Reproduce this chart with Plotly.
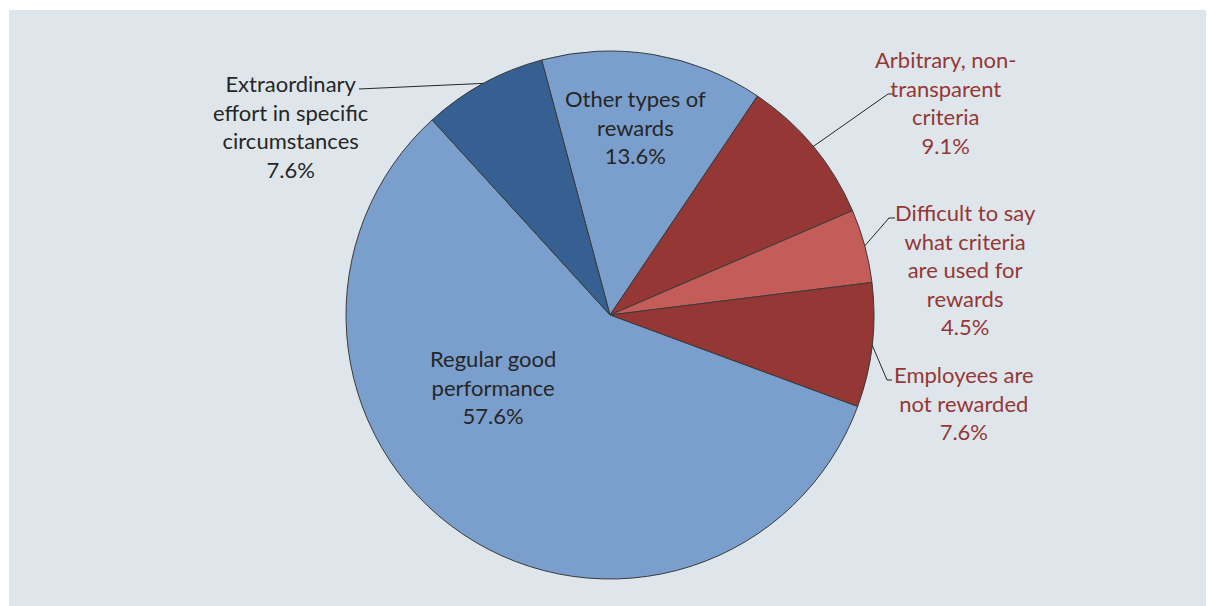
import math
import plotly.graph_objects as go

# ---- data ----
categories = [
    "Other types of rewards",
    "Arbitrary, non-transparent criteria",
    "Difficult to say what criteria are used for rewards",
    "Employees are not rewarded",
    "Regular good performance",
    "Extraordinary effort in specific circumstances",
]
label_lines = [
    "Other types of<br>rewards",
    "Arbitrary, non-<br>transparent<br>criteria",
    "Difficult to say<br>what criteria<br>are used for<br>rewards",
    "Employees are<br>not rewarded",
    "Regular good<br>performance",
    "Extraordinary<br>effort in specific<br>circumstances",
]
values = [13.6, 9.1, 4.5, 7.6, 57.6, 7.6]

# ---- styling / layout ----
slice_colors = ["#7b9fcc", "#953735", "#c45c59", "#953735", "#7b9fcc", "#376092"]
text_colors = ["#262626", "#953735", "#953735", "#953735", "#262626", "#262626"]
BG = "#dee6ec"
OFF = 8                      # page body margin
W, H = 1214 - OFF, 606 - OFF
CX, CY, R = 610 - OFF, 315 - OFF, 264
ROTATION = -15
FONT = "Lato"
FSIZE = 22

# label centers (screen px) and leader line anchor points (screen px)
label_pos = [(635, 127), (945, 102), (965, 270), (964, 403), (493, 387), (290, 127)]
leader_pts = [
    None,
    [(888, 94), (893, 94)],
    [(889, 218), (895, 218)],
    [(887, 380), (892, 380)],
    None,
    [(359, 89)],
]


def px(x, y):
    """screen pixel -> paper coords"""
    return (x - OFF) / W, 1 - (y - OFF) / H


fig = go.Figure(
    go.Pie(
        labels=categories,
        values=values,
        sort=False,
        direction="clockwise",
        rotation=ROTATION,
        marker=dict(colors=slice_colors, line=dict(color="#3a3a3a", width=1)),
        textinfo="none",
        hoverinfo="label+percent",
        showlegend=False,
        domain=dict(x=[(CX - R) / W, (CX + R) / W], y=[1 - (CY + R) / H, 1 - (CY - R) / H]),
    )
)

# white page strips at top and left
fig.add_shape(type="rect", xref="paper", yref="paper", x0=-0.01, x1=1 / W, y0=-0.1, y1=1.1,
              fillcolor="white", line=dict(width=0), layer="below")
fig.add_shape(type="rect", xref="paper", yref="paper", x0=-0.01, x1=1.1, y0=1 - 2 / H, y1=1.1,
              fillcolor="white", line=dict(width=0), layer="below")

total = sum(values)
start = ROTATION
for i, v in enumerate(values):
    ang = v / total * 360
    mid = math.radians(start + ang / 2)
    start += ang
    pct = f"{v / total * 100:.1f}%"
    lx, ly = px(*label_pos[i])
    fig.add_annotation(x=lx, y=ly, xref="paper", yref="paper", showarrow=False,
                       text=f"{label_lines[i]}<br>{pct}", align="center",
                       xanchor="center", yanchor="middle",
                       font=dict(family=FONT, size=FSIZE, color=text_colors[i]))
    if leader_pts[i]:
        ex = CX + OFF + R * math.sin(mid)
        ey = CY + OFF - R * math.cos(mid)
        pts = [(ex, ey)] + leader_pts[i]
        path = "M " + " L ".join(f"{px(x, y)[0]:.5f} {px(x, y)[1]:.5f}" for x, y in pts)
        fig.add_shape(type="path", xref="paper", yref="paper", path=path,
                      line=dict(color="#262626", width=1))

fig.update_layout(
    width=W, height=H,
    margin=dict(l=0, r=0, t=0, b=0),
    paper_bgcolor=BG,
)

fig.write_html("out.html")
